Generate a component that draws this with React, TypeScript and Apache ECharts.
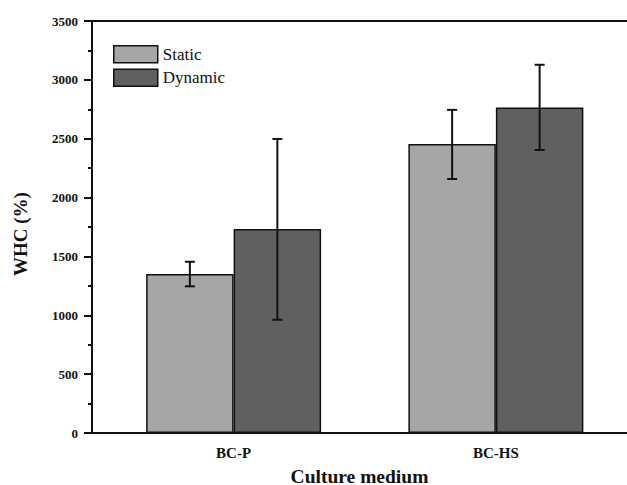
import React, { useEffect, useRef } from "react";
import * as echarts from "echarts";

const categories = ["BC-P", "BC-HS"];
const seriesNames = ["Static", "Dynamic"];
const staticValues = [1350, 2455];
const dynamicValues = [1733, 2765];
const staticErrLow = [1246, 2158];
const staticErrHigh = [1455, 2745];
const dynamicErrLow = [962, 2404];
const dynamicErrHigh = [2498, 3128];
const yTicks = [0, 500, 1000, 1500, 2000, 2500, 3000, 3500];

const BAR_W = 87.5;
const FONT = "'Liberation Serif', 'Times New Roman', serif";

export default function App() {
  const ref = useRef<HTMLDivElement>(null);
  useEffect(() => {
    if (!ref.current) return;
    const chart = echarts.init(ref.current, undefined, { renderer: "svg" });
    const xPos = categories.map((_, i) => i + 1);
    const errData: number[][] = [];
    xPos.forEach((x, i) => {
      errData.push([x, staticErrLow[i], staticErrHigh[i], -1]);
      errData.push([x, dynamicErrLow[i], dynamicErrHigh[i], 1]);
    });
    const legendText = { fontFamily: "Liberation Serif", fontSize: 17, color: "#111", fontWeight: "normal" };
    const option: any = {
      animation: false,
      backgroundColor: "#fff",
      textStyle: { fontFamily: FONT },
      grid: {
        left: 92,
        right: 0,
        top: 21,
        bottom: 52,
        containLabel: false,
        outerBoundsMode: "none",
      },
      legend: {
        orient: "vertical",
        left: 108,
        top: 40,
        padding: 5,
        itemWidth: 44,
        itemHeight: 17,
        itemGap: 5,
        icon: "rect",
        data: seriesNames.map((n) => ({ name: n, textStyle: legendText })),
        textStyle: legendText,
        itemStyle: { borderColor: "#111", borderWidth: 1.5 },
      },
      xAxis: [
        {
          type: "value",
          min: 0.46,
          max: 2.5,
          position: "bottom",
          splitLine: { show: false },
          axisLine: { show: true, lineStyle: { color: "#111", width: 2 } },
          axisTick: { show: false },
          axisLabel: {
            customValues: xPos,
            formatter: (v: number) => categories[Math.round(v) - 1] ?? "",
            fontFamily: FONT,
            fontWeight: "bold",
            fontSize: 15,
            color: "#111",
            margin: 12,
          },
          name: "Culture medium",
          nameLocation: "middle",
          nameGap: 33,
          nameTextStyle: { fontFamily: FONT, fontWeight: "bold", fontSize: 19.5, color: "#111" },
        },
        {
          type: "value",
          min: 0.46,
          max: 2.5,
          position: "top",
          splitLine: { show: false },
          axisLine: { show: true, onZero: false, lineStyle: { color: "#111", width: 2 } },
          axisTick: { show: false },
          axisLabel: { show: false },
        },
      ],
      yAxis: {
        type: "value",
        min: 0,
        max: 3500,
        interval: 500,
        splitLine: { show: false },
        axisLine: { show: true, lineStyle: { color: "#111", width: 2 } },
        axisTick: { show: true, length: 8, lineStyle: { color: "#111", width: 2 } },
        minorTick: { show: true, splitNumber: 2, length: 4, lineStyle: { color: "#111", width: 2 } },
        axisLabel: {
          fontFamily: FONT,
          fontWeight: "bold",
          fontSize: 13,
          color: "#111",
          margin: 14,
          formatter: (v: number) => (yTicks.includes(v) ? String(v) : ""),
        },
        name: "WHC (%)",
        nameLocation: "middle",
        nameGap: 62,
        nameTextStyle: {
          fontFamily: FONT,
          fontWeight: "bold",
          fontSize: 19,
          color: "#111",
          padding: [0, 14, 0, 0],
        },
      },
      series: [
        {
          name: "Static",
          type: "bar",
          barWidth: BAR_W,
          barGap: "0%",
          data: xPos.map((x, i) => [x, staticValues[i]]),
          itemStyle: { color: "#a6a6a6", borderColor: "#111", borderWidth: 1.5 },
        },
        {
          name: "Dynamic",
          type: "bar",
          barWidth: BAR_W,
          barGap: "0%",
          data: xPos.map((x, i) => [x, dynamicValues[i]]),
          itemStyle: { color: "#606060", borderColor: "#111", borderWidth: 1.5 },
        },
        {
          type: "custom",
          z: 10,
          data: errData,
          encode: { x: 0, y: [1, 2] },
          renderItem: (params: any, api: any) => {
            const x = api.value(0);
            const lo = api.coord([x, api.value(1)]);
            const hi = api.coord([x, api.value(2)]);
            const cx = lo[0] + (api.value(3) * BAR_W) / 2;
            const cap = 5;
            const style = { stroke: "#111", lineWidth: 2 };
            return {
              type: "group",
              children: [
                { type: "line", shape: { x1: cx, y1: lo[1], x2: cx, y2: hi[1] }, style },
                { type: "line", shape: { x1: cx - cap, y1: lo[1], x2: cx + cap, y2: lo[1] }, style },
                { type: "line", shape: { x1: cx - cap, y1: hi[1], x2: cx + cap, y2: hi[1] }, style },
              ],
            };
          },
        },
      ],
    };
    chart.setOption(option);
    return () => chart.dispose();
  }, []);
  return <div ref={ref} style={{ width: 627, height: 485, position: "absolute", left: 0, top: 0 }} />;
}
